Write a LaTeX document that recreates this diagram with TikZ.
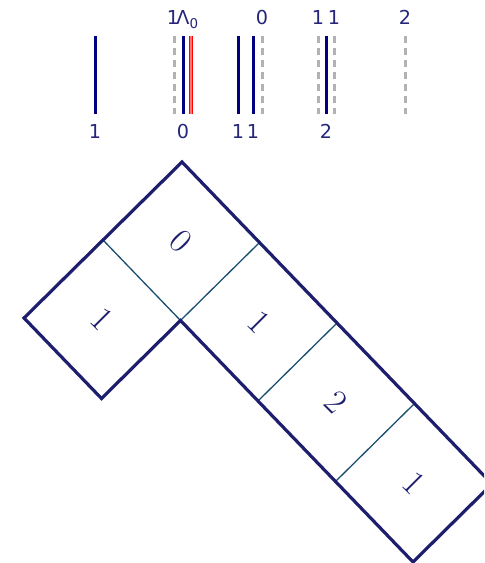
\documentclass[tikz,border=0pt]{standalone}
\usepackage{fontspec}
\newfontfamily\labelfont{DejaVu Sans}
\usetikzlibrary{positioning}
\definecolor{strandblue}{HTML}{000080}
\definecolor{txtnavy}{HTML}{25257A}
\definecolor{boxblue}{HTML}{1E1E6E}
\definecolor{innerblue}{HTML}{1A4E6E}

\begin{document}
\begin{tikzpicture}[
        x=0.5pt, y=0.5pt,
        strand/.style={strandblue, line width=1.5pt},
        ghost/.style={gray!60, line width=1.5pt, dash pattern=on 3.5pt off 2.5pt},
        weight/.style={red, line width=0.45pt, double=red!55, double distance=1.2pt},
        lbl/.style={font=\labelfont\fontsize{9.6}{11}\selectfont, text=txtnavy, inner sep=0pt, anchor=base},
        cellnum/.style={font=\LARGE, text=boxblue, rotate=-45, inner sep=0pt},
        outline/.style={boxblue, line width=1.6pt, line join=miter},
        divider/.style={innerblue, line width=0.65pt}
    ]
        \useasboundingbox (0,0) rectangle (484,563);
        \clip (0,0) rectangle (484,563);

        % strands
        \draw[strand] (95,527) -- (95,449);
        \draw[ghost] (174,527) -- (174,449);
        \draw[strand] (183,527) -- (183,449);
        \draw[weight] (191,527) -- (191,449);
        \draw[strand] (238,527) -- (238,449);
        \draw[strand] (253,527) -- (253,449);
        \draw[ghost] (262,527) -- (262,449);
        \draw[ghost] (318,527) -- (318,449);
        \draw[strand] (326,527) -- (326,449);
        \draw[ghost] (334,527) -- (334,449);
        \draw[ghost] (405,527) -- (405,449);

        % labels below
        \node[lbl] (b1) at (95,424) {1};
        \node[lbl] (b2) at (183,424) {0};
        \node[lbl] (b3) at (238,424) {1};
        \node[lbl] (b4) at (253,424) {1};
        \node[lbl] (b5) at (326,424) {2};

        % labels above
        \node[lbl] (t1) at (173,538) {1};
        \node[lbl, anchor=base west] (t2) at (176,538) {Λ\textsubscript{0}};
        \node[lbl] (t3) at (262,538) {0};
        \node[lbl] (t4) at (318,538) {1};
        \node[lbl] (t5) at (334,538) {1};
        \node[lbl] (t6) at (405,538) {2};

        % tableau
        \begin{scope}[shift={(182,401)}, x={(38.75pt,-40.25pt)}, y={(-39.5pt,-39pt)}]
            \draw[divider] (1,0) -- (1,1);
            \draw[divider] (2,0) -- (2,1);
            \draw[divider] (3,0) -- (3,1);
            \draw[divider] (0,1) -- (1,1);
            \draw[outline] (0,0) -- (4,0) -- (4,1) -- (1,1) -- (1,2) -- (0,2) -- cycle;

            \node[cellnum] (c00) at (0.5,0.5) {0};
            \node[cellnum] (c10) at (1.5,0.5) {1};
            \node[cellnum] (c20) at (2.5,0.5) {2};
            \node[cellnum] (c30) at (3.5,0.5) {1};
            \node[cellnum] (c01) at (0.5,1.5) {1};
        \end{scope}
    \end{tikzpicture}
\end{document}
